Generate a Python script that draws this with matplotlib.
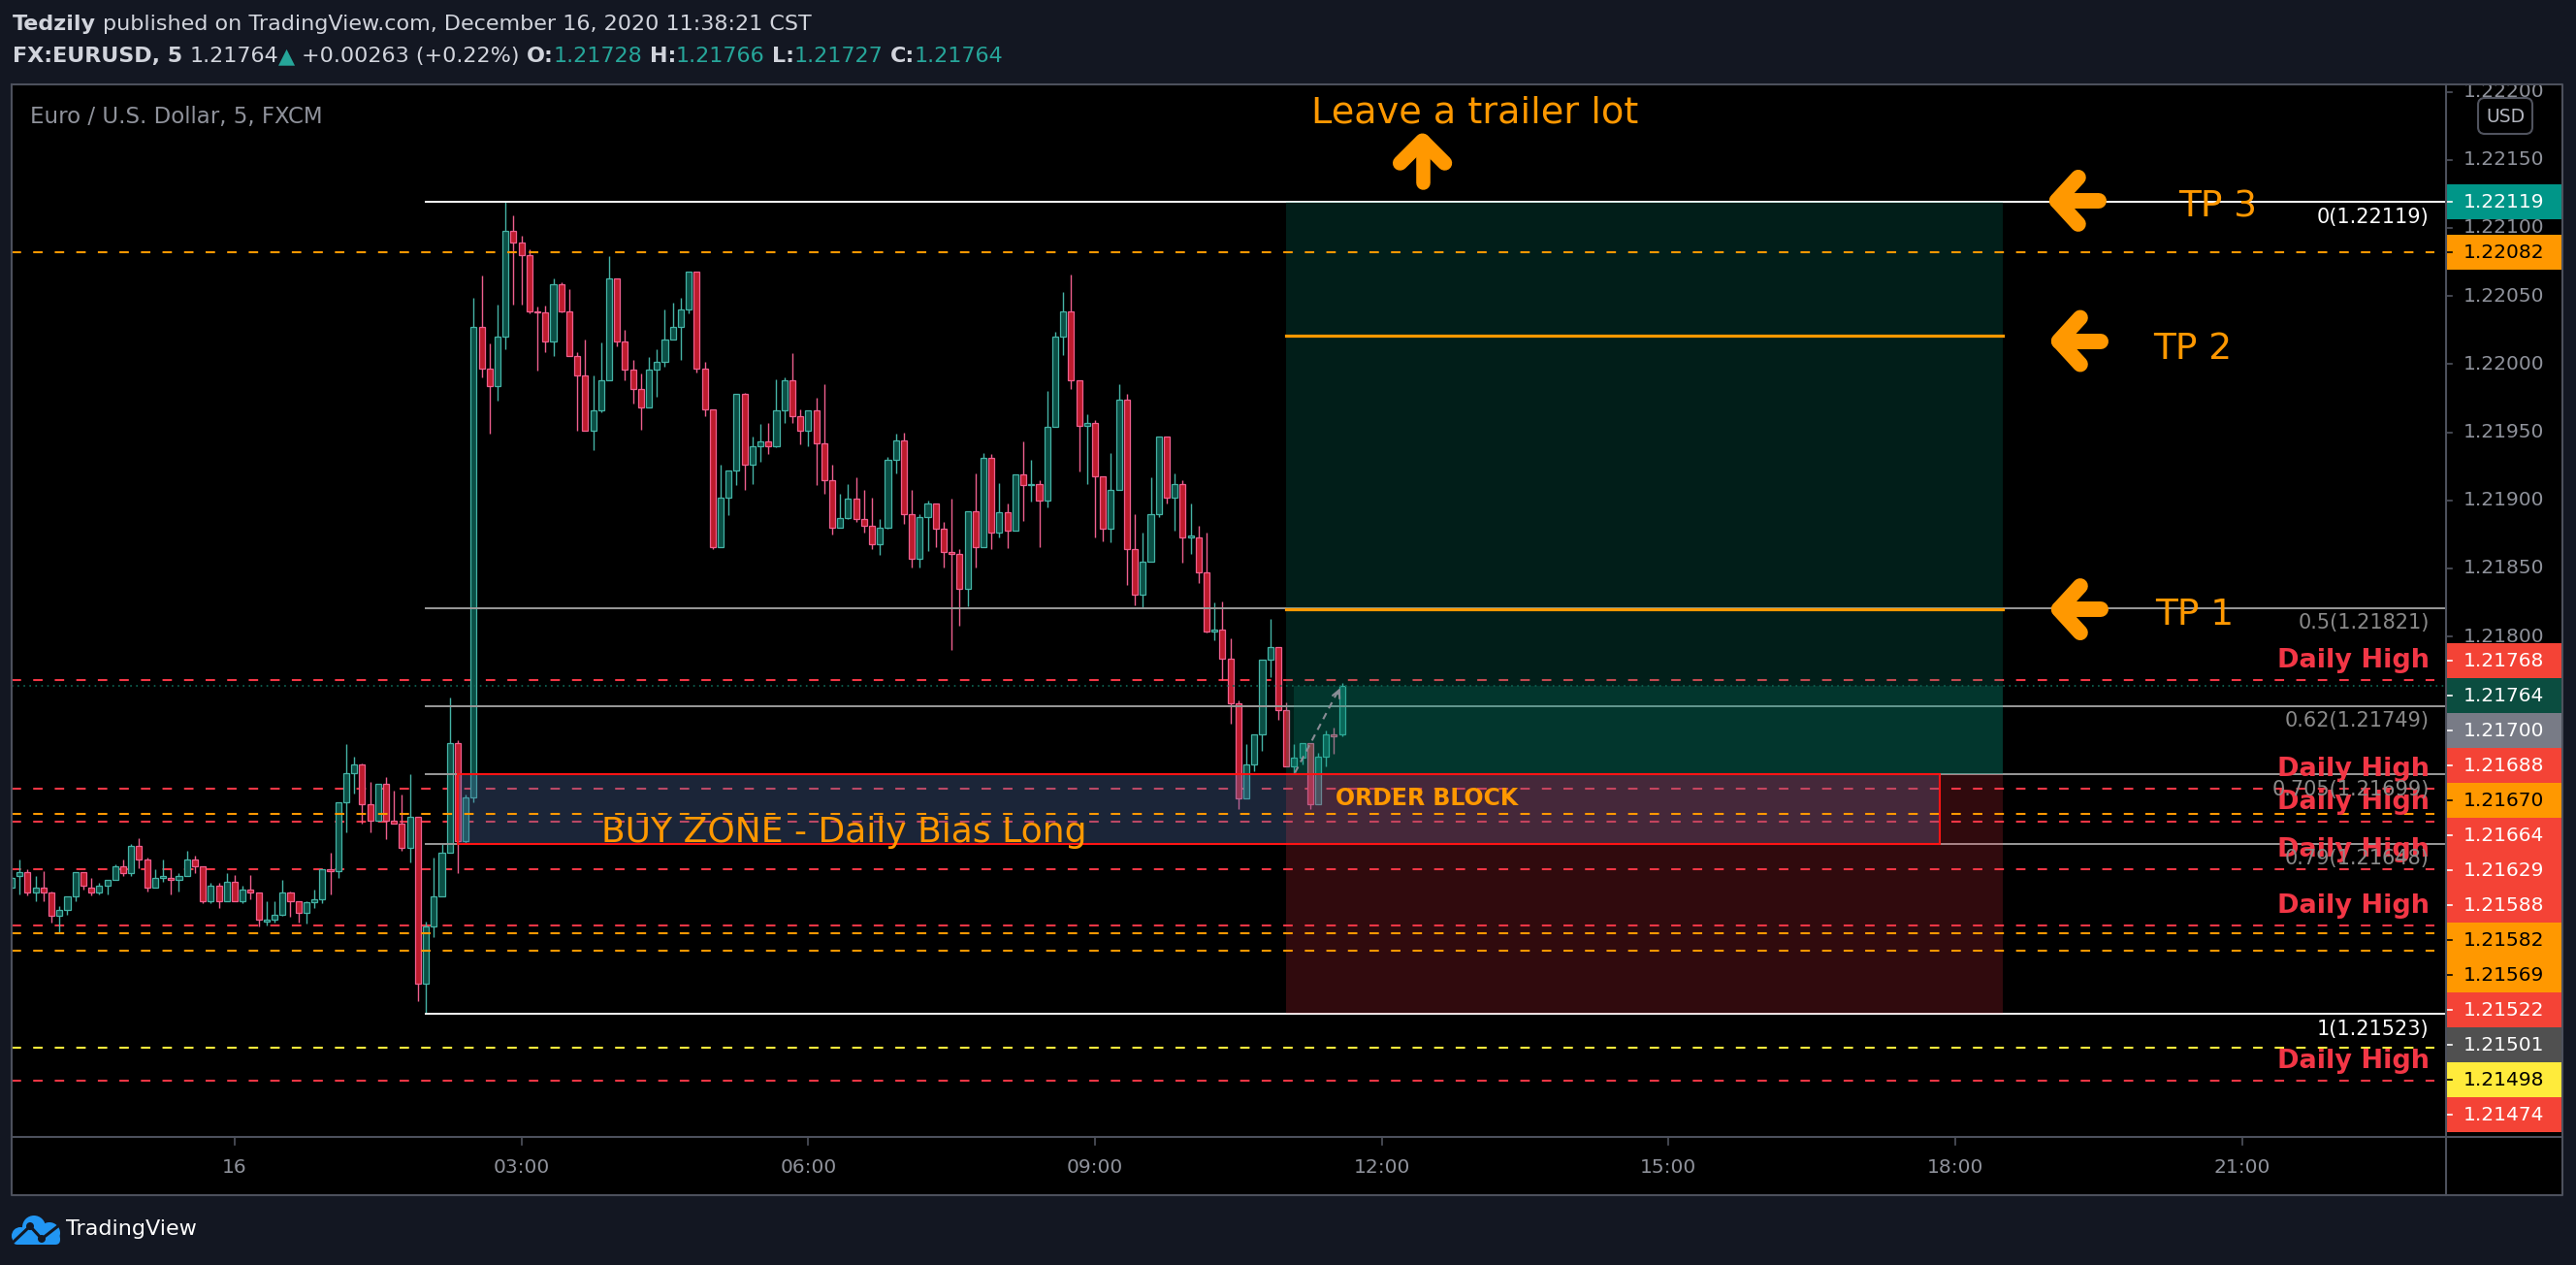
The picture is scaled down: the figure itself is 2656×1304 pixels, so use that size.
import numpy as np
import matplotlib
matplotlib.use('Agg')
import matplotlib.pyplot as plt
from matplotlib.patches import Rectangle, FancyBboxPatch, Circle
from matplotlib.lines import Line2D
from matplotlib.transforms import IdentityTransform

plt.rcParams['lines.scale_dashes'] = False
plt.rcParams['font.family'] = ['DejaVu Sans']

# EURUSD 5 min candles, bar 0 = 00:00 on the 16th
first_bar = -28
opens = [1.21616, 1.21624, 1.21627, 1.21612, 1.21616, 1.21612, 1.21595, 1.21599, 1.21609, 1.21627, 1.21616, 1.21612,
         1.21617, 1.21621, 1.21631, 1.21626, 1.21646, 1.21636, 1.21616, 1.21623, 1.21623, 1.21621, 1.21624, 1.21636,
         1.21631, 1.21606, 1.21617, 1.21606,
         1.21620, 1.21606, 1.21614, 1.21612, 1.21591, 1.21592, 1.21596, 1.21612, 1.21606, 1.21597, 1.21605, 1.21607,
         1.21629, 1.21628, 1.21678, 1.21700, 1.21706, 1.21677, 1.21665, 1.21692, 1.21665, 1.21663, 1.21645, 1.21668,
         1.21545, 1.21587, 1.21609, 1.21641, 1.21722, 1.21650, 1.21682, 1.22027, 1.21997, 1.21984, 1.22020, 1.22098,
         1.22089, 1.22080, 1.22039, 1.22038, 1.22017, 1.22059, 1.22039, 1.22006, 1.21992, 1.21951, 1.21966, 1.21988,
         1.22063, 1.22017, 1.21996, 1.21982, 1.21968, 1.21996, 1.22002, 1.22018, 1.22027, 1.22040, 1.22068, 1.21997,
         1.21967, 1.21866, 1.21902, 1.21922, 1.21978, 1.21926, 1.21940, 1.21943, 1.21940, 1.21966, 1.21988, 1.21962,
         1.21951, 1.21966, 1.21942, 1.21915, 1.21880, 1.21887, 1.21901, 1.21886, 1.21881, 1.21868, 1.21880, 1.21930,
         1.21944, 1.21890, 1.21857, 1.21888, 1.21898, 1.21879, 1.21862, 1.21861, 1.21835, 1.21892, 1.21866, 1.21931,
         1.21876, 1.21891, 1.21878, 1.21919, 1.21911, 1.21912, 1.21900, 1.21954, 1.22020, 1.22039, 1.21988, 1.21955,
         1.21957, 1.21918, 1.21879, 1.21908, 1.21974, 1.21864, 1.21831, 1.21855, 1.21890, 1.21947, 1.21902, 1.21912,
         1.21873, 1.21873, 1.21847, 1.21804, 1.21805, 1.21784, 1.21751, 1.21681, 1.21706, 1.21728, 1.21783, 1.21792,
         1.21746, 1.21705, 1.21711, 1.21722, 1.21677, 1.21712, 1.21728, 1.21728]
highs = [1.21624, 1.21636, 1.21629, 1.21624, 1.21628, 1.21613, 1.21602, 1.21609, 1.21627, 1.21627, 1.21623, 1.21619,
         1.21621, 1.21633, 1.21636, 1.21648, 1.21652, 1.21638, 1.21629, 1.21636, 1.21629, 1.21626, 1.21643, 1.21639,
         1.21631, 1.21619, 1.21619, 1.21626,
         1.21625, 1.21617, 1.21625, 1.21612, 1.21606, 1.21606, 1.21621, 1.21613, 1.21606, 1.21606, 1.21614, 1.21629,
         1.21641, 1.21678, 1.21721, 1.21712, 1.21707, 1.21693, 1.21692, 1.21697, 1.21687, 1.21684, 1.21699, 1.21668,
         1.21591, 1.21638, 1.21648, 1.21755, 1.21724, 1.21684, 1.22049, 1.22065, 1.22015, 1.22044, 1.22119, 1.22109,
         1.22094, 1.22084, 1.22042, 1.22043, 1.22063, 1.22060, 1.22055, 1.22009, 1.22018, 1.21992, 1.22016, 1.22079,
         1.22063, 1.22025, 1.22003, 1.21993, 1.22005, 1.22011, 1.22040, 1.22045, 1.22049, 1.22068, 1.22068, 1.22002,
         1.21967, 1.21926, 1.21922, 1.21978, 1.21979, 1.21947, 1.21956, 1.21957, 1.21989, 1.21990, 1.22008, 1.21967,
         1.21966, 1.21975, 1.21985, 1.21926, 1.21905, 1.21912, 1.21917, 1.21908, 1.21902, 1.21886, 1.21932, 1.21949,
         1.21950, 1.21908, 1.21890, 1.21900, 1.21898, 1.21884, 1.21901, 1.21864, 1.21892, 1.21920, 1.21935, 1.21934,
         1.21913, 1.21898, 1.21919, 1.21943, 1.21930, 1.21915, 1.21980, 1.22024, 1.22053, 1.22066, 1.21988, 1.21963,
         1.21959, 1.21918, 1.21935, 1.21985, 1.21978, 1.21890, 1.21876, 1.21917, 1.21947, 1.21947, 1.21920, 1.21915,
         1.21898, 1.21881, 1.21876, 1.21825, 1.21826, 1.21799, 1.21753, 1.21721, 1.21728, 1.21783, 1.21813, 1.21792,
         1.21752, 1.21721, 1.21722, 1.21722, 1.21715, 1.21731, 1.21733, 1.21766]
lows = [1.21615, 1.21611, 1.21610, 1.21606, 1.21606, 1.21590, 1.21582, 1.21596, 1.21606, 1.21614, 1.21610, 1.21611,
        1.21611, 1.21621, 1.21624, 1.21624, 1.21630, 1.21613, 1.21616, 1.21620, 1.21611, 1.21613, 1.21624, 1.21626,
        1.21604, 1.21604, 1.21601, 1.21606,
        1.21606, 1.21604, 1.21607, 1.21587, 1.21588, 1.21590, 1.21595, 1.21594, 1.21590, 1.21589, 1.21601, 1.21604,
        1.21611, 1.21623, 1.21656, 1.21685, 1.21663, 1.21656, 1.21665, 1.21651, 1.21663, 1.21643, 1.21634, 1.21532,
        1.21523, 1.21579, 1.21609, 1.21641, 1.21626, 1.21648, 1.21678, 1.21990, 1.21949, 1.21973, 1.22011, 1.22044,
        1.22044, 1.22037, 1.21995, 1.22009, 1.22006, 1.22038, 1.22006, 1.21951, 1.21951, 1.21937, 1.21965, 1.21988,
        1.22013, 1.21988, 1.21971, 1.21952, 1.21968, 1.21976, 1.21998, 1.22018, 1.22003, 1.22037, 1.21994, 1.21962,
        1.21864, 1.21866, 1.21889, 1.21911, 1.21908, 1.21912, 1.21928, 1.21934, 1.21939, 1.21957, 1.21957, 1.21941,
        1.21940, 1.21911, 1.21905, 1.21875, 1.21880, 1.21886, 1.21884, 1.21876, 1.21864, 1.21860, 1.21879, 1.21920,
        1.21883, 1.21851, 1.21851, 1.21863, 1.21866, 1.21851, 1.21790, 1.21808, 1.21822, 1.21851, 1.21866, 1.21864,
        1.21873, 1.21865, 1.21878, 1.21885, 1.21899, 1.21866, 1.21895, 1.21954, 1.22007, 1.21982, 1.21921, 1.21912,
        1.21873, 1.21870, 1.21869, 1.21908, 1.21838, 1.21823, 1.21821, 1.21855, 1.21888, 1.21898, 1.21878, 1.21854,
        1.21861, 1.21839, 1.21803, 1.21797, 1.21768, 1.21736, 1.21673, 1.21681, 1.21701, 1.21716, 1.21770, 1.21739,
        1.21705, 1.21700, 1.21706, 1.21673, 1.21677, 1.21705, 1.21714, 1.21727]
closes = [1.21623, 1.21627, 1.21612, 1.21616, 1.21612, 1.21595, 1.21599, 1.21609, 1.21627, 1.21617, 1.21612, 1.21617,
          1.21621, 1.21631, 1.21626, 1.21646, 1.21636, 1.21616, 1.21623, 1.21624, 1.21621, 1.21624, 1.21636, 1.21631,
          1.21606, 1.21617, 1.21606, 1.21620,
          1.21606, 1.21614, 1.21612, 1.21592, 1.21592, 1.21596, 1.21612, 1.21606, 1.21597, 1.21605, 1.21607, 1.21629,
          1.21628, 1.21678, 1.21700, 1.21706, 1.21677, 1.21665, 1.21692, 1.21665, 1.21663, 1.21645, 1.21668, 1.21545,
          1.21587, 1.21609, 1.21641, 1.21722, 1.21650, 1.21682, 1.22027, 1.21997, 1.21984, 1.22020, 1.22098, 1.22089,
          1.22080, 1.22039, 1.22038, 1.22017, 1.22059, 1.22039, 1.22006, 1.21992, 1.21951, 1.21966, 1.21988, 1.22063,
          1.22017, 1.21996, 1.21982, 1.21968, 1.21996, 1.22002, 1.22018, 1.22027, 1.22040, 1.22068, 1.21997, 1.21967,
          1.21866, 1.21902, 1.21922, 1.21978, 1.21926, 1.21940, 1.21943, 1.21940, 1.21966, 1.21988, 1.21962, 1.21951,
          1.21966, 1.21942, 1.21915, 1.21880, 1.21887, 1.21901, 1.21886, 1.21881, 1.21868, 1.21880, 1.21930, 1.21944,
          1.21890, 1.21857, 1.21888, 1.21898, 1.21879, 1.21862, 1.21861, 1.21835, 1.21892, 1.21866, 1.21931, 1.21876,
          1.21891, 1.21878, 1.21919, 1.21911, 1.21912, 1.21900, 1.21954, 1.22020, 1.22039, 1.21988, 1.21955, 1.21957,
          1.21918, 1.21879, 1.21908, 1.21974, 1.21864, 1.21831, 1.21855, 1.21890, 1.21947, 1.21902, 1.21912, 1.21873,
          1.21874, 1.21847, 1.21804, 1.21805, 1.21784, 1.21751, 1.21681, 1.21706, 1.21728, 1.21783, 1.21792, 1.21746,
          1.21705, 1.21711, 1.21722, 1.21677, 1.21712, 1.21728, 1.21727, 1.21764]

# fib retracement drawn from the 02:00 low
fib_ratios = ['0', '0.5', '0.62', '0.705', '0.79', '1']
fib_prices = [1.22119, 1.21821, 1.21749, 1.21699, 1.21648, 1.21523]
fib_start_bar = 24

daily_high_prices = [1.21768, 1.21688, 1.21664, 1.21629, 1.21588, 1.21474]
orange_level_prices = [1.22082, 1.21670, 1.21582, 1.21569]
yellow_level_prices = [1.21498]
last_price = 1.21764

# long position tool and order block
entry_price = 1.21699
target_price = 1.22119
stop_price = 1.21523
tp_prices = [1.22021, 1.21820]
position_bars = [132, 222]
block_bars = [28, 214]
block_prices = [1.21648, 1.21699]

# labels on the price scale
scale_prices = [1.22119, 1.22082, 1.21768, 1.21764, 1.21700, 1.21688, 1.21670, 1.21664,
                1.21629, 1.21588, 1.21582, 1.21569, 1.21522, 1.21501, 1.21498, 1.21474]
scale_box_colors = ['#009688', '#ff9800', '#f44336', '#0b4d40', '#787b86', '#f44336', '#ff9800', '#f44336',
                    '#f44336', '#f44336', '#ff9800', '#ff9800', '#f44336', '#505050', '#ffeb3b', '#f44336']
scale_text_colors = ['white', 'black', 'white', 'white', 'white', 'white', 'black', 'white',
                     'white', 'white', 'black', 'black', 'white', 'white', 'black', 'white']

price_ticks = [1.22200, 1.22150, 1.22100, 1.22050, 1.22000, 1.21950, 1.21900, 1.21850,
               1.21800, 1.21750, 1.21700, 1.21650, 1.21600, 1.21550, 1.21500, 1.21450]
time_tick_bars = [0, 36, 72, 108, 144, 180, 216, 252]
time_tick_labels = ['16', '03:00', '06:00', '09:00', '12:00', '15:00', '18:00', '21:00']

BG = '#131722'
GRAY = '#8f929b'
ORANGE = '#ff9800'
RED = '#f23645'
TEAL = '#26a69a'

W, H = 2656, 1304
fig = plt.figure(figsize=(W / 100, H / 100), dpi=100)
fig.patch.set_facecolor(BG)

PL, PR, PT, PB, PS, TB = 12, 2522, 87, 1172, 2642, 1232
ax = fig.add_axes([PL / W, 1 - PB / H, (PR - PL) / W, (PB - PT) / H])
pax = fig.add_axes([PR / W, 1 - PB / H, (PS - PR) / W, (PB - PT) / H])
tax = fig.add_axes([PL / W, 1 - TB / H, (PR - PL) / W, (TB - PB) / H])
for a in (ax, pax, tax):
    a.set_facecolor('black')
    a.set_xticks([])
    a.set_yticks([])
    for s in a.spines.values():
        s.set_visible(False)

ax.set_xlim(-28.0, 277.6)
ax.set_ylim(1.214326, 1.222054)
pax.set_xlim(0, PS - PR)
pax.set_ylim(ax.get_ylim())
tax.set_xlim(ax.get_xlim())
tax.set_ylim(0, 1)
x_end = 277.6
label_x = 275.5

# candles
o, h, l, c = (np.array(v) for v in (opens, highs, lows, closes))
bars = np.arange(first_bar, first_bar + len(o))
up = c >= o
edge = np.where(up, '#45b3a6', '#ef5f8e')
fill = np.where(up, '#0a4f45', '#bd1b2c')
ax.vlines(bars, l, h, colors=edge, lw=1.0, zorder=3)
ax.bar(bars, np.abs(c - o), bottom=np.minimum(o, c), width=0.74, color=fill,
       edgecolor=edge, linewidth=0.9, zorder=3.1)

# horizontal levels
for p in daily_high_prices:
    ax.plot([-28, x_end - 1.5], [p, p], color=RED, lw=1.5, dashes=(7, 9), zorder=2.5)
    ax.annotate('Daily High', (label_x, p), xytext=(0, 5), textcoords='offset points',
                ha='right', va='bottom', color=RED, fontsize=19.5, fontweight='bold', zorder=8)
for p in orange_level_prices:
    ax.plot([-28, x_end - 1.5], [p, p], color=ORANGE, lw=1.5, dashes=(7, 9), zorder=6)
for p in yellow_level_prices:
    ax.plot([-28, x_end - 1.5], [p, p], color='#ffeb3b', lw=1.5, dashes=(7, 9), zorder=6)
ax.plot([-28, x_end], [last_price, last_price], color='#0d6050', lw=1.3, dashes=(1.2, 3.2), zorder=6)

for r, p in zip(fib_ratios, fib_prices):
    col = 'white' if r in ('0', '1') else '#9a9a9a'
    tcol = 'white' if r in ('0', '1') else '#8a8a8a'
    ax.plot([fib_start_bar, x_end], [p, p], color=col, lw=1.4, zorder=4.5)
    ax.annotate(f'{r}({p:.5f})', (label_x, p), xytext=(0, -4), textcoords='offset points',
                ha='right', va='top', color=tcol, fontsize=15, zorder=8.5)

# order block
ax.add_patch(Rectangle((block_bars[0], block_prices[0]), block_bars[1] - block_bars[0],
                       block_prices[1] - block_prices[0], facecolor=(0.31, 0.42, 0.63, 0.35),
                       edgecolor='none', zorder=4))
ax.add_patch(Rectangle((block_bars[0], block_prices[0]), block_bars[1] - block_bars[0],
                       block_prices[1] - block_prices[0], facecolor='none',
                       edgecolor='#ff1414', lw=1.5, zorder=6.5))

# position tool
pw = position_bars[1] - position_bars[0]
ax.add_patch(Rectangle((position_bars[0], entry_price), pw, target_price - entry_price,
                       facecolor=(8 / 255, 153 / 255, 129 / 255, 0.2), edgecolor='none', zorder=5))
ax.add_patch(Rectangle((position_bars[0], stop_price), pw, entry_price - stop_price,
                       facecolor=(242 / 255, 54 / 255, 69 / 255, 0.2), edgecolor='none', zorder=5))
ax.add_patch(Rectangle((position_bars[0] + 1, entry_price), pw - 1, last_price - entry_price,
                       facecolor=(8 / 255, 153 / 255, 129 / 255, 0.2), edgecolor='none', zorder=5))
for p in tp_prices:
    ax.plot(position_bars, [p, p], color=ORANGE, lw=2.3, zorder=7)
ax.plot([133.1, 138.5], [1.21700, 1.21760], color='#8a8d96', lw=1.5, dashes=(5, 4), zorder=7)
ax.annotate('', xy=(138.9, 1.21764), xytext=(138.3, 1.21756),
            arrowprops=dict(arrowstyle='->', color='#8a8d96', lw=1.5, mutation_scale=14), zorder=7)

# drawn notes
ax.text(46.0, 1.21649, 'BUY ZONE - Daily Bias Long', color=ORANGE, fontsize=26, va='baseline', zorder=8)
ax.text(138.2, 1.21676, 'ORDER BLOCK', color=ORANGE, fontsize=17, fontweight='bold', va='baseline', zorder=8)
ax.text(135.1, 1.22177, 'Leave a trailer lot', color=ORANGE, fontsize=27.5, va='baseline', zorder=8)
for x, p, s in [(244.0, 1.221085, 'TP 3'), (240.9, 1.220038, 'TP 2'), (241.05, 1.218089, 'TP 1')]:
    ax.text(x, p, s, color=ORANGE, fontsize=27, va='baseline', zorder=8)


def pixel_path(x, y, pts, lw):
    X, Y = ax.transData.transform((x, y))
    fig.add_artist(Line2D([X + dx for dx, dy in pts], [Y - dy for dx, dy in pts],
                          transform=IdentityTransform(), color=ORANGE, lw=lw,
                          solid_capstyle='round', solid_joinstyle='round'))


for x, p in [(228.75, 1.22120), (229.0, 1.22017), (229.0, 1.21820)]:
    pixel_path(x, p, [(22, -24), (0, 0), (22, 24)], 11.5)
    pixel_path(x, p, [(0, 0), (43, 0)], 11.5)
pixel_path(149.1, 1.22164, [(-23, 23), (0, 0), (23, 23)], 11)
pixel_path(149.1, 1.22164, [(0, 0), (0, 43)], 10.5)

fig.text(31 / W, 1 - 120 / H, 'Euro / U.S. Dollar, 5, FXCM', color=GRAY, fontsize=16.5,
         va='center', ha='left')

# price scale
for t in price_ticks:
    pax.text(18, t, f'{t:.5f}', color=GRAY, fontsize=14.5, va='center', ha='left', clip_on=True, zorder=2)
    pax.plot([0, 6], [t, t], color='#50535e', lw=1.2, zorder=2)

lab_h = (ax.get_ylim()[1] - ax.get_ylim()[0]) * 36 / (PB - PT)


def place(cl):
    m = np.mean([scale_prices[k] for k in cl])
    return [m + ((len(cl) - 1) / 2 - j) * lab_h for j in range(len(cl))]


clusters = []
for k in sorted(range(len(scale_prices)), key=lambda k: -scale_prices[k]):
    clusters.append([k])
    while len(clusters) > 1 and place(clusters[-2])[-1] - place(clusters[-1])[0] < lab_h:
        clusters[-2:] = [clusters[-2] + clusters[-1]]
for cl in clusters:
    for k, y in zip(cl, place(cl)):
        pax.add_patch(Rectangle((0, y - lab_h / 2), PS - PR, lab_h, facecolor=scale_box_colors[k],
                                edgecolor='none', zorder=5))
        pax.text(18, y, f'{scale_prices[k]:.5f}', color=scale_text_colors[k], fontsize=14.5,
                 va='center', ha='left', zorder=6)
        pax.plot([0, 6], [y, y], color=scale_text_colors[k], lw=1.2, zorder=6)

# time scale
for b, s in zip(time_tick_bars, time_tick_labels):
    tax.text(b, 0.48, s, color=GRAY, fontsize=14.5, ha='center', va='center')
    tax.plot([b, b], [0.87, 1.0], color='#50535e', lw=1.2)
fig.add_artist(Rectangle((PR, H - TB), PS - PR, TB - PB, transform=IdentityTransform(),
                         facecolor='black', edgecolor='none'))

# panel borders
bc, bw = '#4c505c', 1.5
for xs, ys in [([PL, PS, PS, PL, PL], [PT, PT, TB, TB, PT]), ([PR, PR], [PT, TB]), ([PL, PS], [PB, PB])]:
    fig.add_artist(Line2D(xs, [H - y for y in ys], transform=IdentityTransform(), color=bc, lw=bw))

# USD badge
fig.add_artist(FancyBboxPatch((2555, H - 138), 56, 37, boxstyle='round,pad=0,rounding_size=7',
                              transform=IdentityTransform(), facecolor='black', edgecolor='#50535e', lw=1.5))
fig.text(2583 / W, 1 - 120 / H, 'USD', color='#b2b5be', fontsize=13.5, ha='center', va='center')

# header
renderer = fig.canvas.get_renderer()


def text_run(x, y, pieces, size):
    probe = fig.text(0, 0, 'a a', fontsize=size)
    probe2 = fig.text(0, 0, 'aa', fontsize=size)
    sp = probe.get_window_extent(renderer).width - probe2.get_window_extent(renderer).width
    probe.remove()
    probe2.remove()
    for s, col, wt in pieces:
        n = len(s) - len(s.lstrip(' '))
        x += n * sp
        t = fig.text(x / W, 1 - y / H, s.strip(' '), color=col, fontsize=size, fontweight=wt,
                     ha='left', va='center')
        x += t.get_window_extent(renderer).width


HDR = '#d1d4dc'
text_run(13, 25, [('Tedzily', HDR, 'bold'),
                  (' published on TradingView.com, December 16, 2020 11:38:21 CST', HDR, 'normal')], 16)
text_run(13, 58, [('FX:EURUSD, 5', HDR, 'bold'), (' 1.21764', HDR, 'normal'), ('▲', TEAL, 'normal'),
                  (' +0.00263 (+0.22%)', HDR, 'normal'), (' O:', HDR, 'bold'), ('1.21728', TEAL, 'normal'),
                  (' H:', HDR, 'bold'), ('1.21766', TEAL, 'normal'), (' L:', HDR, 'bold'),
                  ('1.21727', TEAL, 'normal'), (' C:', HDR, 'bold'), ('1.21764', TEAL, 'normal')], 16)

# footer logo
blue = '#2196f3'
for cx, cy, rr in [(35, 1265, 12), (51, 1271, 11), (21, 1274, 9)]:
    fig.add_artist(Circle((cx, H - cy), rr, transform=IdentityTransform(), facecolor=blue, edgecolor='none'))
fig.add_artist(FancyBboxPatch((13, H - 1283), 49, 11, boxstyle='round,pad=0,rounding_size=5',
                              transform=IdentityTransform(), facecolor=blue, edgecolor='none'))
fig.add_artist(Line2D([14, 31, 43, 61], [H - 1280, H - 1264, H - 1277, H - 1263],
                      transform=IdentityTransform(), color=BG, lw=2.2))
for cx, cy in [(31, 1264), (43, 1277)]:
    fig.add_artist(Circle((cx, H - cy), 4, transform=IdentityTransform(), facecolor=BG, edgecolor='none'))
fig.text(68 / W, 1 - 1267 / H, 'TradingView', color='white', fontsize=16, ha='left', va='center')

fig.savefig('out.png', dpi=100, facecolor=fig.get_facecolor())
